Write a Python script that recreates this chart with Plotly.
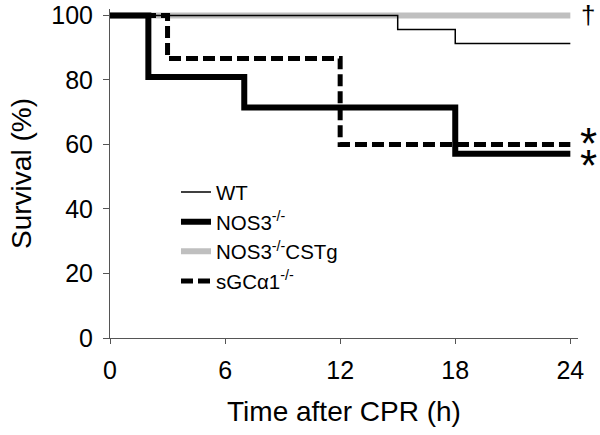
import plotly.graph_objects as go

# Kaplan-Meier step data (time in h, survival in %)
wt_t = [0, 15, 18, 24]
wt_s = [100, 95.65, 91.3, 91.3]

nos3_t = [0, 2, 7, 18, 24]
nos3_s = [100, 80.95, 71.43, 57.14, 57.14]

cstg_t = [0, 24]
cstg_s = [100, 100]

sgc_t = [0, 3, 12, 24]
sgc_s = [100, 86.67, 60, 60]

x_ticks = [0, 6, 12, 18, 24]
y_ticks = [0, 20, 40, 60, 80, 100]

FONT = "Liberation Sans, Arial, sans-serif"

fig = go.Figure()
fig.add_trace(go.Scatter(x=cstg_t, y=cstg_s, mode="lines", line_shape="hv",
                         line=dict(color="#bfbfbf", width=6), name="NOS3<sup>-/-</sup>CSTg",
                         legendrank=3))
fig.add_trace(go.Scatter(x=wt_t, y=wt_s, mode="lines", line_shape="hv",
                         line=dict(color="black", width=1.5), name="WT", legendrank=1))
fig.add_trace(go.Scatter(x=nos3_t, y=nos3_s, mode="lines", line_shape="hv",
                         line=dict(color="black", width=6), name="NOS3<sup>-/-</sup>",
                         legendrank=2))
fig.add_trace(go.Scatter(x=sgc_t, y=sgc_s, mode="lines", line_shape="hv",
                         line=dict(color="black", width=5, dash="12px,5px"),
                         name="sGCα1<sup>-/-</sup>", legendrank=4))

fig.add_annotation(x=wt_t[-1], y=cstg_s[-1], text="†", showarrow=False,
                   xref="x", yref="y", xshift=18, yshift=0,
                   font=dict(family=FONT, size=26, color="black"))
fig.add_annotation(x=sgc_t[-1], y=sgc_s[-1], text="*", showarrow=False,
                   xref="x", yref="y", xshift=18, yshift=1,
                   font=dict(family=FONT, size=44, color="black"))
fig.add_annotation(x=nos3_t[-1], y=nos3_s[-1], text="*", showarrow=False,
                   xref="x", yref="y", xshift=18, yshift=-12,
                   font=dict(family=FONT, size=44, color="black"))

fig.update_layout(
    width=600, height=435,
    margin=dict(l=110, r=21.5, t=8.5, b=97, autoexpand=False),
    paper_bgcolor="white", plot_bgcolor="white",
    font=dict(family=FONT, color="black"),
    showlegend=True,
    legend=dict(x=0.141, y=0.504, xanchor="left", yanchor="top",
                font=dict(family=FONT, size=20.5, color="black"),
                bgcolor="rgba(0,0,0,0)", traceorder="normal"),
    xaxis=dict(range=[0, 24.4], tickvals=x_ticks, ticks="outside", ticklen=5,
               tickcolor="#555", showline=True, linecolor="#555", linewidth=1,
               showgrid=False, zeroline=False, automargin=False,
               ticklabelstandoff=5,
               tickfont=dict(family=FONT, size=25, color="black"),
               title=dict(text="Time after CPR (h)", standoff=18,
                          font=dict(family=FONT, size=28, color="black"))),
    yaxis=dict(range=[0, 102], tickvals=y_ticks, ticks="outside", ticklen=6,
               tickcolor="#555", showline=True, linecolor="#555", linewidth=1,
               showgrid=False, zeroline=False, automargin=False,
               ticklabelstandoff=5,
               tickfont=dict(family=FONT, size=25, color="black"),
               title=dict(text="Survival (%)", standoff=11,
                          font=dict(family=FONT, size=28, color="black"))),
)

fig.write_html("out.html", config={"displayModeBar": False},
               post_script="document.body.style.margin='0';")
